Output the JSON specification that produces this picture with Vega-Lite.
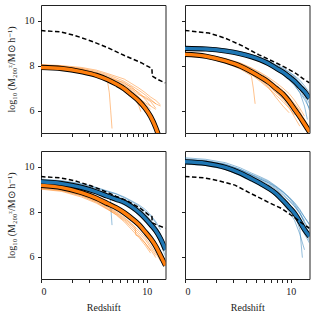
{
"$schema":"https://vega.github.io/schema/vega-lite/v6.json",
"padding":{"left":5,"top":4,"right":2,"bottom":4},
"spacing":12,
"config":{
 "font":"Liberation Serif",
 "view":{"stroke":"#222","strokeWidth":1},
 "axis":{"domain":false,"grid":false,"tickColor":"#222","tickWidth":1,"tickSize":3.5,"labelFont":"Liberation Serif","labelFontSize":10,"labelColor":"#222","labelPadding":3.5,"titleFont":"Liberation Serif","titleFontSize":10,"titleFontWeight":"normal","titleColor":"#222"},
 "line":{"clip":true}
},
"datasets":{"d":[
{"p":1,"k":"D","s":"D","z":0,"v":9.56},{"p":1,"k":"D","s":"D","z":0.57,"v":9.5},{"p":1,"k":"D","s":"D","z":1.13,"v":9.35},{"p":1,"k":"D","s":"D","z":2.1,"v":9.1},{"p":1,"k":"D","s":"D","z":3.54,"v":8.8},{"p":1,"k":"D","s":"D","z":5.62,"v":8.45},{"p":1,"k":"D","s":"D","z":8.67,"v":8.13},{"p":1,"k":"D","s":"D","z":11.35,"v":7.87},{"p":1,"k":"D","s":"D","z":11.45,"v":7.53},{"p":1,"k":"D","s":"D","z":13.3,"v":7.37},{"p":1,"k":"D","s":"D","z":15.8,"v":7.23},
{"p":1,"k":"O","s":"O","z":0,"v":7.92},{"p":1,"k":"O","s":"O","z":0.6,"v":7.87},{"p":1,"k":"O","s":"O","z":1.5,"v":7.73},{"p":1,"k":"O","s":"O","z":2.5,"v":7.57},{"p":1,"k":"O","s":"O","z":3.5,"v":7.38},{"p":1,"k":"O","s":"O","z":4.5,"v":7.18},{"p":1,"k":"O","s":"O","z":5.6,"v":6.97},{"p":1,"k":"O","s":"O","z":6.8,"v":6.7},{"p":1,"k":"O","s":"O","z":8.2,"v":6.42},{"p":1,"k":"O","s":"O","z":9.6,"v":6.1},{"p":1,"k":"O","s":"O","z":11,"v":5.73},{"p":1,"k":"O","s":"O","z":12.5,"v":5.23},{"p":1,"k":"O","s":"O","z":13.6,"v":4.8},
{"p":1,"k":"o","s":"o1","z":0,"v":8.02},{"p":1,"k":"o","s":"o1","z":0.6,"v":7.98},{"p":1,"k":"o","s":"o1","z":1.5,"v":7.88},{"p":1,"k":"o","s":"o1","z":2.5,"v":7.75},{"p":1,"k":"o","s":"o1","z":3.5,"v":7.6},{"p":1,"k":"o","s":"o1","z":4.5,"v":7.45},{"p":1,"k":"o","s":"o1","z":5.6,"v":7.3},{"p":1,"k":"o","s":"o1","z":6.8,"v":7.1},{"p":1,"k":"o","s":"o1","z":8.2,"v":6.9},{"p":1,"k":"o","s":"o1","z":9.6,"v":6.7},{"p":1,"k":"o","s":"o1","z":11,"v":6.5},{"p":1,"k":"o","s":"o1","z":12.5,"v":6.3},
{"p":1,"k":"o","s":"o2","z":0,"v":7.95},{"p":1,"k":"o","s":"o2","z":0.6,"v":7.9},{"p":1,"k":"o","s":"o2","z":1.5,"v":7.78},{"p":1,"k":"o","s":"o2","z":2.5,"v":7.62},{"p":1,"k":"o","s":"o2","z":3.5,"v":7.45},{"p":1,"k":"o","s":"o2","z":4.5,"v":7.22},{"p":1,"k":"o","s":"o2","z":5.6,"v":7.05},{"p":1,"k":"o","s":"o2","z":6.8,"v":6.85},{"p":1,"k":"o","s":"o2","z":8.2,"v":6.55},{"p":1,"k":"o","s":"o2","z":9.6,"v":6.3},{"p":1,"k":"o","s":"o2","z":11,"v":6.05},
{"p":1,"k":"o","s":"o3","z":0,"v":8.05},{"p":1,"k":"o","s":"o3","z":0.6,"v":8.0},{"p":1,"k":"o","s":"o3","z":1.5,"v":7.92},{"p":1,"k":"o","s":"o3","z":2.5,"v":7.8},{"p":1,"k":"o","s":"o3","z":3.5,"v":7.65},{"p":1,"k":"o","s":"o3","z":4.5,"v":7.52},{"p":1,"k":"o","s":"o3","z":5.6,"v":7.4},{"p":1,"k":"o","s":"o3","z":6.8,"v":7.2},{"p":1,"k":"o","s":"o3","z":8.2,"v":7.0},{"p":1,"k":"o","s":"o3","z":9.6,"v":6.8},{"p":1,"k":"o","s":"o3","z":11,"v":6.6},{"p":1,"k":"o","s":"o3","z":12.5,"v":6.45},{"p":1,"k":"o","s":"o3","z":14,"v":6.25},
{"p":1,"k":"o","s":"o4","z":0,"v":7.9},{"p":1,"k":"o","s":"o4","z":0.6,"v":7.85},{"p":1,"k":"o","s":"o4","z":1.5,"v":7.7},{"p":1,"k":"o","s":"o4","z":2.5,"v":7.5},{"p":1,"k":"o","s":"o4","z":3.5,"v":7.3},{"p":1,"k":"o","s":"o4","z":4.5,"v":7.1},{"p":1,"k":"o","s":"o4","z":5.6,"v":6.85},{"p":1,"k":"o","s":"o4","z":6.8,"v":6.6},{"p":1,"k":"o","s":"o4","z":8.2,"v":6.4},{"p":1,"k":"o","s":"o4","z":9.6,"v":6.15},
{"p":1,"k":"o","s":"o5","z":0,"v":7.98},{"p":1,"k":"o","s":"o5","z":0.6,"v":7.92},{"p":1,"k":"o","s":"o5","z":1.5,"v":7.8},{"p":1,"k":"o","s":"o5","z":2.5,"v":7.6},{"p":1,"k":"o","s":"o5","z":3.5,"v":7.35},{"p":1,"k":"o","s":"o5","z":3.7,"v":6.8},{"p":1,"k":"o","s":"o5","z":3.85,"v":6.0},{"p":1,"k":"o","s":"o5","z":4.0,"v":5.2},
{"p":1,"k":"o","s":"o6","z":0,"v":8.0},{"p":1,"k":"o","s":"o6","z":0.6,"v":7.95},{"p":1,"k":"o","s":"o6","z":1.5,"v":7.85},{"p":1,"k":"o","s":"o6","z":2.5,"v":7.7},{"p":1,"k":"o","s":"o6","z":3.5,"v":7.55},{"p":1,"k":"o","s":"o6","z":4.5,"v":7.38},{"p":1,"k":"o","s":"o6","z":5.6,"v":7.2},{"p":1,"k":"o","s":"o6","z":6.8,"v":7.05},{"p":1,"k":"o","s":"o6","z":8.2,"v":6.75},{"p":1,"k":"o","s":"o6","z":9.6,"v":6.5},{"p":1,"k":"o","s":"o6","z":11,"v":6.2},
{"p":1,"k":"o","s":"o7","z":0,"v":7.88},{"p":1,"k":"o","s":"o7","z":0.6,"v":7.82},{"p":1,"k":"o","s":"o7","z":1.5,"v":7.68},{"p":1,"k":"o","s":"o7","z":2.5,"v":7.5},{"p":1,"k":"o","s":"o7","z":3.5,"v":7.32},{"p":1,"k":"o","s":"o7","z":4.5,"v":7.15},{"p":1,"k":"o","s":"o7","z":5.6,"v":6.95},{"p":1,"k":"o","s":"o7","z":6.8,"v":6.8},{"p":1,"k":"o","s":"o7","z":8.2,"v":6.55},{"p":1,"k":"o","s":"o7","z":9.6,"v":6.35},{"p":1,"k":"o","s":"o7","z":11,"v":6.2},{"p":1,"k":"o","s":"o7","z":12.5,"v":6.05},
{"p":1,"k":"o","s":"o8","z":0,"v":8.03},{"p":1,"k":"o","s":"o8","z":0.6,"v":7.97},{"p":1,"k":"o","s":"o8","z":1.5,"v":7.85},{"p":1,"k":"o","s":"o8","z":2.5,"v":7.68},{"p":1,"k":"o","s":"o8","z":3.5,"v":7.5},{"p":1,"k":"o","s":"o8","z":4.5,"v":7.32},{"p":1,"k":"o","s":"o8","z":5.6,"v":7.15},{"p":1,"k":"o","s":"o8","z":6.8,"v":6.95},{"p":1,"k":"o","s":"o8","z":8.2,"v":6.7},{"p":1,"k":"o","s":"o8","z":9.6,"v":6.6},{"p":1,"k":"o","s":"o8","z":11,"v":6.45},{"p":1,"k":"o","s":"o8","z":12.5,"v":6.3},{"p":1,"k":"o","s":"o8","z":14,"v":6.2},
{"p":1,"k":"o","s":"o9","z":0,"v":7.93},{"p":1,"k":"o","s":"o9","z":0.6,"v":7.9},{"p":1,"k":"o","s":"o9","z":1.5,"v":7.75},{"p":1,"k":"o","s":"o9","z":2.5,"v":7.55},{"p":1,"k":"o","s":"o9","z":3.5,"v":7.35},{"p":1,"k":"o","s":"o9","z":4.5,"v":7.25},{"p":1,"k":"o","s":"o9","z":5.6,"v":7.1},{"p":1,"k":"o","s":"o9","z":6.8,"v":6.9},{"p":1,"k":"o","s":"o9","z":8.2,"v":6.6},{"p":1,"k":"o","s":"o9","z":9.6,"v":6.2},{"p":1,"k":"o","s":"o9","z":11,"v":5.9},
{"p":1,"k":"o","s":"o10","z":0,"v":8.0},{"p":1,"k":"o","s":"o10","z":0.6,"v":7.95},{"p":1,"k":"o","s":"o10","z":1.5,"v":7.82},{"p":1,"k":"o","s":"o10","z":2.5,"v":7.65},{"p":1,"k":"o","s":"o10","z":3.5,"v":7.48},{"p":1,"k":"o","s":"o10","z":4.5,"v":7.35},{"p":1,"k":"o","s":"o10","z":5.6,"v":7.25},{"p":1,"k":"o","s":"o10","z":6.8,"v":7.0},{"p":1,"k":"o","s":"o10","z":8.2,"v":6.8},{"p":1,"k":"o","s":"o10","z":9.6,"v":6.55},{"p":1,"k":"o","s":"o10","z":11,"v":6.4},{"p":1,"k":"o","s":"o10","z":12.5,"v":6.1},
{"p":1,"k":"o","s":"o11","z":0,"v":7.96},{"p":1,"k":"o","s":"o11","z":0.6,"v":7.9},{"p":1,"k":"o","s":"o11","z":1.5,"v":7.8},{"p":1,"k":"o","s":"o11","z":2.5,"v":7.62},{"p":1,"k":"o","s":"o11","z":3.5,"v":7.42},{"p":1,"k":"o","s":"o11","z":4.5,"v":7.25},{"p":1,"k":"o","s":"o11","z":5.6,"v":7.05},{"p":1,"k":"o","s":"o11","z":6.8,"v":6.8},{"p":1,"k":"o","s":"o11","z":8.2,"v":6.2},{"p":1,"k":"o","s":"o11","z":8.6,"v":5.95},

{"p":2,"k":"D","s":"D","z":0,"v":9.57},{"p":2,"k":"D","s":"D","z":0.72,"v":9.45},{"p":2,"k":"D","s":"D","z":1.5,"v":9.22},{"p":2,"k":"D","s":"D","z":2.67,"v":8.88},{"p":2,"k":"D","s":"D","z":3.54,"v":8.65},{"p":2,"k":"D","s":"D","z":4.36,"v":8.48},{"p":2,"k":"D","s":"D","z":6.83,"v":8.13},{"p":2,"k":"D","s":"D","z":8.67,"v":7.92},{"p":2,"k":"D","s":"D","z":11.3,"v":7.66},{"p":2,"k":"D","s":"D","z":13.5,"v":7.42},{"p":2,"k":"D","s":"D","z":15.8,"v":7.23},
{"p":2,"k":"B","s":"B","z":0,"v":8.77},{"p":2,"k":"B","s":"B","z":0.6,"v":8.74},{"p":2,"k":"B","s":"B","z":1.5,"v":8.65},{"p":2,"k":"B","s":"B","z":2.5,"v":8.53},{"p":2,"k":"B","s":"B","z":3.5,"v":8.4},{"p":2,"k":"B","s":"B","z":4.5,"v":8.26},{"p":2,"k":"B","s":"B","z":5.6,"v":8.1},{"p":2,"k":"B","s":"B","z":6.8,"v":7.9},{"p":2,"k":"B","s":"B","z":8.2,"v":7.71},{"p":2,"k":"B","s":"B","z":9.6,"v":7.5},{"p":2,"k":"B","s":"B","z":11,"v":7.3},{"p":2,"k":"B","s":"B","z":12.5,"v":7.06},{"p":2,"k":"B","s":"B","z":14,"v":6.85},{"p":2,"k":"B","s":"B","z":15.8,"v":6.55},
{"p":2,"k":"O","s":"O","z":0,"v":8.5},{"p":2,"k":"O","s":"O","z":0.6,"v":8.42},{"p":2,"k":"O","s":"O","z":1.5,"v":8.21},{"p":2,"k":"O","s":"O","z":2.5,"v":7.98},{"p":2,"k":"O","s":"O","z":3.5,"v":7.73},{"p":2,"k":"O","s":"O","z":4.5,"v":7.5},{"p":2,"k":"O","s":"O","z":5.6,"v":7.27},{"p":2,"k":"O","s":"O","z":6.8,"v":7.0},{"p":2,"k":"O","s":"O","z":8.2,"v":6.73},{"p":2,"k":"O","s":"O","z":9.6,"v":6.4},{"p":2,"k":"O","s":"O","z":11,"v":6.05},{"p":2,"k":"O","s":"O","z":12.5,"v":5.72},{"p":2,"k":"O","s":"O","z":14,"v":5.4},{"p":2,"k":"O","s":"O","z":15.8,"v":5.05},
{"p":2,"k":"b","s":"b1","z":0,"v":8.85},{"p":2,"k":"b","s":"b1","z":0.6,"v":8.82},{"p":2,"k":"b","s":"b1","z":1.5,"v":8.75},{"p":2,"k":"b","s":"b1","z":2.5,"v":8.63},{"p":2,"k":"b","s":"b1","z":3.5,"v":8.5},{"p":2,"k":"b","s":"b1","z":4.5,"v":8.38},{"p":2,"k":"b","s":"b1","z":5.6,"v":8.22},{"p":2,"k":"b","s":"b1","z":6.8,"v":8.05},{"p":2,"k":"b","s":"b1","z":8.2,"v":7.85},{"p":2,"k":"b","s":"b1","z":9.6,"v":7.7},{"p":2,"k":"b","s":"b1","z":11,"v":7.55},{"p":2,"k":"b","s":"b1","z":12.5,"v":7.35},{"p":2,"k":"b","s":"b1","z":14,"v":7.1},{"p":2,"k":"b","s":"b1","z":15.8,"v":6.8},
{"p":2,"k":"b","s":"b2","z":0,"v":8.72},{"p":2,"k":"b","s":"b2","z":0.6,"v":8.7},{"p":2,"k":"b","s":"b2","z":1.5,"v":8.6},{"p":2,"k":"b","s":"b2","z":2.5,"v":8.48},{"p":2,"k":"b","s":"b2","z":3.5,"v":8.35},{"p":2,"k":"b","s":"b2","z":4.5,"v":8.2},{"p":2,"k":"b","s":"b2","z":5.6,"v":8.02},{"p":2,"k":"b","s":"b2","z":6.8,"v":7.8},{"p":2,"k":"b","s":"b2","z":8.2,"v":7.6},{"p":2,"k":"b","s":"b2","z":9.6,"v":7.35},{"p":2,"k":"b","s":"b2","z":11,"v":7.1},{"p":2,"k":"b","s":"b2","z":12.5,"v":6.8},{"p":2,"k":"b","s":"b2","z":14,"v":6.5},{"p":2,"k":"b","s":"b2","z":15.8,"v":6.1},
{"p":2,"k":"b","s":"b3","z":0,"v":8.8},{"p":2,"k":"b","s":"b3","z":0.6,"v":8.78},{"p":2,"k":"b","s":"b3","z":1.5,"v":8.7},{"p":2,"k":"b","s":"b3","z":2.5,"v":8.58},{"p":2,"k":"b","s":"b3","z":3.5,"v":8.45},{"p":2,"k":"b","s":"b3","z":4.5,"v":8.33},{"p":2,"k":"b","s":"b3","z":5.6,"v":8.2},{"p":2,"k":"b","s":"b3","z":6.8,"v":8.0},{"p":2,"k":"b","s":"b3","z":8.2,"v":7.8},{"p":2,"k":"b","s":"b3","z":9.6,"v":7.62},{"p":2,"k":"b","s":"b3","z":11,"v":7.48},{"p":2,"k":"b","s":"b3","z":12.5,"v":7.25},{"p":2,"k":"b","s":"b3","z":14,"v":7.0},
{"p":2,"k":"b","s":"b4","z":0,"v":8.75},{"p":2,"k":"b","s":"b4","z":0.6,"v":8.72},{"p":2,"k":"b","s":"b4","z":1.5,"v":8.62},{"p":2,"k":"b","s":"b4","z":2.5,"v":8.5},{"p":2,"k":"b","s":"b4","z":3.5,"v":8.38},{"p":2,"k":"b","s":"b4","z":4.5,"v":8.22},{"p":2,"k":"b","s":"b4","z":5.6,"v":8.05},{"p":2,"k":"b","s":"b4","z":6.8,"v":7.88},{"p":2,"k":"b","s":"b4","z":8.2,"v":7.65},{"p":2,"k":"b","s":"b4","z":9.6,"v":7.4},{"p":2,"k":"b","s":"b4","z":11,"v":7.15},{"p":2,"k":"b","s":"b4","z":12.5,"v":6.8},{"p":2,"k":"b","s":"b4","z":14,"v":6.2},{"p":2,"k":"b","s":"b4","z":15,"v":5.6},
{"p":2,"k":"b","s":"b5","z":0,"v":8.82},{"p":2,"k":"b","s":"b5","z":0.6,"v":8.8},{"p":2,"k":"b","s":"b5","z":1.5,"v":8.72},{"p":2,"k":"b","s":"b5","z":2.5,"v":8.6},{"p":2,"k":"b","s":"b5","z":3.5,"v":8.47},{"p":2,"k":"b","s":"b5","z":4.5,"v":8.3},{"p":2,"k":"b","s":"b5","z":5.6,"v":8.15},{"p":2,"k":"b","s":"b5","z":6.8,"v":7.95},{"p":2,"k":"b","s":"b5","z":8.2,"v":7.8},{"p":2,"k":"b","s":"b5","z":9.6,"v":7.6},{"p":2,"k":"b","s":"b5","z":11,"v":7.42},{"p":2,"k":"b","s":"b5","z":12.5,"v":7.2},{"p":2,"k":"b","s":"b5","z":14,"v":6.9},{"p":2,"k":"b","s":"b5","z":15.8,"v":6.6},
{"p":2,"k":"b","s":"b6","z":0,"v":8.7},{"p":2,"k":"b","s":"b6","z":0.6,"v":8.68},{"p":2,"k":"b","s":"b6","z":1.5,"v":8.6},{"p":2,"k":"b","s":"b6","z":2.5,"v":8.47},{"p":2,"k":"b","s":"b6","z":3.5,"v":8.32},{"p":2,"k":"b","s":"b6","z":4.5,"v":8.18},{"p":2,"k":"b","s":"b6","z":5.6,"v":8.0},{"p":2,"k":"b","s":"b6","z":6.8,"v":7.82},{"p":2,"k":"b","s":"b6","z":8.2,"v":7.62},{"p":2,"k":"b","s":"b6","z":9.6,"v":7.45},{"p":2,"k":"b","s":"b6","z":11,"v":7.25},{"p":2,"k":"b","s":"b6","z":12.5,"v":6.95},{"p":2,"k":"b","s":"b6","z":14,"v":6.55},
{"p":2,"k":"b","s":"b7","z":0,"v":8.78},{"p":2,"k":"b","s":"b7","z":0.6,"v":8.76},{"p":2,"k":"b","s":"b7","z":1.5,"v":8.68},{"p":2,"k":"b","s":"b7","z":2.5,"v":8.56},{"p":2,"k":"b","s":"b7","z":3.5,"v":8.42},{"p":2,"k":"b","s":"b7","z":4.5,"v":8.28},{"p":2,"k":"b","s":"b7","z":5.6,"v":8.12},{"p":2,"k":"b","s":"b7","z":6.8,"v":7.95},{"p":2,"k":"b","s":"b7","z":8.2,"v":7.75},{"p":2,"k":"b","s":"b7","z":9.6,"v":7.58},{"p":2,"k":"b","s":"b7","z":11,"v":7.4},{"p":2,"k":"b","s":"b7","z":12.5,"v":7.1},{"p":2,"k":"b","s":"b7","z":14,"v":6.75},{"p":2,"k":"b","s":"b7","z":15.8,"v":6.3},
{"p":2,"k":"b","s":"b8","z":0,"v":8.84},{"p":2,"k":"b","s":"b8","z":0.6,"v":8.8},{"p":2,"k":"b","s":"b8","z":1.5,"v":8.7},{"p":2,"k":"b","s":"b8","z":2.5,"v":8.55},{"p":2,"k":"b","s":"b8","z":3.5,"v":8.42},{"p":2,"k":"b","s":"b8","z":4.5,"v":8.3},{"p":2,"k":"b","s":"b8","z":5.6,"v":8.18},{"p":2,"k":"b","s":"b8","z":6.8,"v":8.02},{"p":2,"k":"b","s":"b8","z":8.2,"v":7.9},{"p":2,"k":"b","s":"b8","z":9.6,"v":7.72},{"p":2,"k":"b","s":"b8","z":11,"v":7.5},{"p":2,"k":"b","s":"b8","z":12.5,"v":7.2},{"p":2,"k":"b","s":"b8","z":14,"v":6.7},{"p":2,"k":"b","s":"b8","z":15.8,"v":6.0},
{"p":2,"k":"b","s":"b9","z":0,"v":8.74},{"p":2,"k":"b","s":"b9","z":0.6,"v":8.72},{"p":2,"k":"b","s":"b9","z":1.5,"v":8.64},{"p":2,"k":"b","s":"b9","z":2.5,"v":8.52},{"p":2,"k":"b","s":"b9","z":3.5,"v":8.4},{"p":2,"k":"b","s":"b9","z":4.5,"v":8.25},{"p":2,"k":"b","s":"b9","z":5.6,"v":8.08},{"p":2,"k":"b","s":"b9","z":6.8,"v":7.9},{"p":2,"k":"b","s":"b9","z":8.2,"v":7.68},{"p":2,"k":"b","s":"b9","z":9.6,"v":7.45},{"p":2,"k":"b","s":"b9","z":11,"v":7.2},{"p":2,"k":"b","s":"b9","z":12.5,"v":6.95},{"p":2,"k":"b","s":"b9","z":14,"v":6.7},{"p":2,"k":"b","s":"b9","z":15.8,"v":6.45},
{"p":2,"k":"o","s":"o1","z":0,"v":8.55},{"p":2,"k":"o","s":"o1","z":0.6,"v":8.48},{"p":2,"k":"o","s":"o1","z":1.5,"v":8.3},{"p":2,"k":"o","s":"o1","z":2.5,"v":8.1},{"p":2,"k":"o","s":"o1","z":3.5,"v":7.88},{"p":2,"k":"o","s":"o1","z":4.5,"v":7.65},{"p":2,"k":"o","s":"o1","z":5.6,"v":7.42},{"p":2,"k":"o","s":"o1","z":6.8,"v":7.15},{"p":2,"k":"o","s":"o1","z":8.2,"v":6.9},{"p":2,"k":"o","s":"o1","z":9.6,"v":6.6},{"p":2,"k":"o","s":"o1","z":11,"v":6.3},{"p":2,"k":"o","s":"o1","z":12.5,"v":6.0},
{"p":2,"k":"o","s":"o2","z":0,"v":8.45},{"p":2,"k":"o","s":"o2","z":0.6,"v":8.38},{"p":2,"k":"o","s":"o2","z":1.5,"v":8.15},{"p":2,"k":"o","s":"o2","z":2.5,"v":7.9},{"p":2,"k":"o","s":"o2","z":3.5,"v":7.6},{"p":2,"k":"o","s":"o2","z":4.5,"v":7.3},{"p":2,"k":"o","s":"o2","z":5.6,"v":7.0},{"p":2,"k":"o","s":"o2","z":6.8,"v":6.7},{"p":2,"k":"o","s":"o2","z":8.2,"v":6.4},{"p":2,"k":"o","s":"o2","z":9.6,"v":6.1},{"p":2,"k":"o","s":"o2","z":11,"v":5.8},
{"p":2,"k":"o","s":"o3","z":0,"v":8.5},{"p":2,"k":"o","s":"o3","z":0.6,"v":8.42},{"p":2,"k":"o","s":"o3","z":1.5,"v":8.22},{"p":2,"k":"o","s":"o3","z":2.5,"v":7.95},{"p":2,"k":"o","s":"o3","z":3.5,"v":7.7},{"p":2,"k":"o","s":"o3","z":4.5,"v":7.4},{"p":2,"k":"o","s":"o3","z":5.6,"v":7.1},{"p":2,"k":"o","s":"o3","z":6.8,"v":6.8},{"p":2,"k":"o","s":"o3","z":8.2,"v":6.55},{"p":2,"k":"o","s":"o3","z":9.6,"v":6.3},{"p":2,"k":"o","s":"o3","z":11,"v":6.1},{"p":2,"k":"o","s":"o3","z":12.5,"v":5.8},{"p":2,"k":"o","s":"o3","z":14,"v":5.5},
{"p":2,"k":"o","s":"o4","z":0,"v":8.42},{"p":2,"k":"o","s":"o4","z":0.6,"v":8.35},{"p":2,"k":"o","s":"o4","z":1.5,"v":8.12},{"p":2,"k":"o","s":"o4","z":2.5,"v":7.85},{"p":2,"k":"o","s":"o4","z":3.5,"v":7.55},{"p":2,"k":"o","s":"o4","z":3.7,"v":7.0},{"p":2,"k":"o","s":"o4","z":3.9,"v":6.3},
{"p":2,"k":"o","s":"o5","z":0,"v":8.58},{"p":2,"k":"o","s":"o5","z":0.6,"v":8.5},{"p":2,"k":"o","s":"o5","z":1.5,"v":8.32},{"p":2,"k":"o","s":"o5","z":2.5,"v":8.12},{"p":2,"k":"o","s":"o5","z":3.5,"v":7.9},{"p":2,"k":"o","s":"o5","z":4.5,"v":7.7},{"p":2,"k":"o","s":"o5","z":5.6,"v":7.48},{"p":2,"k":"o","s":"o5","z":6.8,"v":7.25},{"p":2,"k":"o","s":"o5","z":8.2,"v":7.0},{"p":2,"k":"o","s":"o5","z":9.6,"v":6.75},{"p":2,"k":"o","s":"o5","z":11,"v":6.45},{"p":2,"k":"o","s":"o5","z":12.5,"v":6.1},{"p":2,"k":"o","s":"o5","z":14,"v":5.75},
{"p":2,"k":"o","s":"o6","z":0,"v":8.48},{"p":2,"k":"o","s":"o6","z":0.6,"v":8.4},{"p":2,"k":"o","s":"o6","z":1.5,"v":8.18},{"p":2,"k":"o","s":"o6","z":2.5,"v":7.92},{"p":2,"k":"o","s":"o6","z":3.5,"v":7.62},{"p":2,"k":"o","s":"o6","z":4.5,"v":7.35},{"p":2,"k":"o","s":"o6","z":5.6,"v":7.05},{"p":2,"k":"o","s":"o6","z":6.8,"v":6.6},{"p":2,"k":"o","s":"o6","z":8.2,"v":6.2},{"p":2,"k":"o","s":"o6","z":9.6,"v":5.9},
{"p":2,"k":"o","s":"o7","z":0,"v":8.52},{"p":2,"k":"o","s":"o7","z":0.6,"v":8.45},{"p":2,"k":"o","s":"o7","z":1.5,"v":8.25},{"p":2,"k":"o","s":"o7","z":2.5,"v":8.0},{"p":2,"k":"o","s":"o7","z":3.5,"v":7.75},{"p":2,"k":"o","s":"o7","z":4.5,"v":7.5},{"p":2,"k":"o","s":"o7","z":5.6,"v":7.2},{"p":2,"k":"o","s":"o7","z":6.8,"v":6.95},{"p":2,"k":"o","s":"o7","z":8.2,"v":6.65},{"p":2,"k":"o","s":"o7","z":9.6,"v":6.35},{"p":2,"k":"o","s":"o7","z":11,"v":6.05},{"p":2,"k":"o","s":"o7","z":12.5,"v":5.65},
{"p":2,"k":"o","s":"o8","z":0,"v":8.46},{"p":2,"k":"o","s":"o8","z":0.6,"v":8.4},{"p":2,"k":"o","s":"o8","z":1.5,"v":8.2},{"p":2,"k":"o","s":"o8","z":2.5,"v":7.95},{"p":2,"k":"o","s":"o8","z":3.5,"v":7.68},{"p":2,"k":"o","s":"o8","z":4.5,"v":7.45},{"p":2,"k":"o","s":"o8","z":5.6,"v":7.18},{"p":2,"k":"o","s":"o8","z":6.8,"v":6.85},{"p":2,"k":"o","s":"o8","z":8.2,"v":6.5},{"p":2,"k":"o","s":"o8","z":9.6,"v":6.15},{"p":2,"k":"o","s":"o8","z":11,"v":5.7},{"p":2,"k":"o","s":"o8","z":12.5,"v":5.3},
{"p":2,"k":"o","s":"o9","z":0,"v":8.55},{"p":2,"k":"o","s":"o9","z":0.6,"v":8.47},{"p":2,"k":"o","s":"o9","z":1.5,"v":8.28},{"p":2,"k":"o","s":"o9","z":2.5,"v":8.05},{"p":2,"k":"o","s":"o9","z":3.5,"v":7.8},{"p":2,"k":"o","s":"o9","z":4.5,"v":7.55},{"p":2,"k":"o","s":"o9","z":5.6,"v":7.3},{"p":2,"k":"o","s":"o9","z":6.8,"v":7.05},{"p":2,"k":"o","s":"o9","z":8.2,"v":6.8},{"p":2,"k":"o","s":"o9","z":9.6,"v":6.5},{"p":2,"k":"o","s":"o9","z":11,"v":6.25},{"p":2,"k":"o","s":"o9","z":12.5,"v":5.95},{"p":2,"k":"o","s":"o9","z":14,"v":5.6},{"p":2,"k":"o","s":"o9","z":15.8,"v":5.2},

{"p":3,"k":"D","s":"D","z":0,"v":9.56},{"p":3,"k":"D","s":"D","z":0.57,"v":9.5},{"p":3,"k":"D","s":"D","z":1.13,"v":9.38},{"p":3,"k":"D","s":"D","z":2.1,"v":9.15},{"p":3,"k":"D","s":"D","z":3.5,"v":8.86},{"p":3,"k":"D","s":"D","z":4.5,"v":8.68},{"p":3,"k":"D","s":"D","z":6.05,"v":8.48},{"p":3,"k":"D","s":"D","z":8.5,"v":8.15},{"p":3,"k":"D","s":"D","z":10.5,"v":7.85},{"p":3,"k":"D","s":"D","z":11.35,"v":7.78},{"p":3,"k":"D","s":"D","z":11.45,"v":7.5},{"p":3,"k":"D","s":"D","z":13.3,"v":7.38},{"p":3,"k":"D","s":"D","z":15.8,"v":7.26},
{"p":3,"k":"B","s":"B","z":0,"v":9.33},{"p":3,"k":"B","s":"B","z":0.6,"v":9.25},{"p":3,"k":"B","s":"B","z":1.5,"v":9.08},{"p":3,"k":"B","s":"B","z":2.5,"v":8.88},{"p":3,"k":"B","s":"B","z":3.5,"v":8.69},{"p":3,"k":"B","s":"B","z":4.5,"v":8.55},{"p":3,"k":"B","s":"B","z":5.6,"v":8.42},{"p":3,"k":"B","s":"B","z":6.8,"v":8.22},{"p":3,"k":"B","s":"B","z":8.2,"v":7.97},{"p":3,"k":"B","s":"B","z":9.6,"v":7.7},{"p":3,"k":"B","s":"B","z":11,"v":7.43},{"p":3,"k":"B","s":"B","z":12.5,"v":7.15},{"p":3,"k":"B","s":"B","z":14,"v":6.8},{"p":3,"k":"B","s":"B","z":15.8,"v":6.3},
{"p":3,"k":"O","s":"O","z":0,"v":9.17},{"p":3,"k":"O","s":"O","z":0.6,"v":9.07},{"p":3,"k":"O","s":"O","z":1.5,"v":8.85},{"p":3,"k":"O","s":"O","z":2.5,"v":8.6},{"p":3,"k":"O","s":"O","z":3.5,"v":8.36},{"p":3,"k":"O","s":"O","z":4.5,"v":8.17},{"p":3,"k":"O","s":"O","z":5.6,"v":7.95},{"p":3,"k":"O","s":"O","z":6.8,"v":7.7},{"p":3,"k":"O","s":"O","z":8.2,"v":7.42},{"p":3,"k":"O","s":"O","z":9.6,"v":7.1},{"p":3,"k":"O","s":"O","z":11,"v":6.8},{"p":3,"k":"O","s":"O","z":12.5,"v":6.45},{"p":3,"k":"O","s":"O","z":14,"v":6.05},{"p":3,"k":"O","s":"O","z":15.8,"v":5.6},
{"p":3,"k":"b","s":"b1","z":0,"v":9.4},{"p":3,"k":"b","s":"b1","z":0.6,"v":9.33},{"p":3,"k":"b","s":"b1","z":1.5,"v":9.18},{"p":3,"k":"b","s":"b1","z":2.5,"v":9.0},{"p":3,"k":"b","s":"b1","z":3.5,"v":8.82},{"p":3,"k":"b","s":"b1","z":4.5,"v":8.68},{"p":3,"k":"b","s":"b1","z":5.6,"v":8.55},{"p":3,"k":"b","s":"b1","z":6.8,"v":8.38},{"p":3,"k":"b","s":"b1","z":8.2,"v":8.15},{"p":3,"k":"b","s":"b1","z":9.6,"v":7.9},{"p":3,"k":"b","s":"b1","z":11,"v":7.62},{"p":3,"k":"b","s":"b1","z":12.5,"v":7.35},{"p":3,"k":"b","s":"b1","z":14,"v":7.0},{"p":3,"k":"b","s":"b1","z":15.8,"v":6.5},
{"p":3,"k":"b","s":"b2","z":0,"v":9.3},{"p":3,"k":"b","s":"b2","z":0.6,"v":9.22},{"p":3,"k":"b","s":"b2","z":1.5,"v":9.05},{"p":3,"k":"b","s":"b2","z":2.5,"v":8.85},{"p":3,"k":"b","s":"b2","z":3.5,"v":8.65},{"p":3,"k":"b","s":"b2","z":4.5,"v":8.5},{"p":3,"k":"b","s":"b2","z":5.6,"v":8.35},{"p":3,"k":"b","s":"b2","z":6.8,"v":8.15},{"p":3,"k":"b","s":"b2","z":8.2,"v":7.9},{"p":3,"k":"b","s":"b2","z":9.6,"v":7.62},{"p":3,"k":"b","s":"b2","z":11,"v":7.35},{"p":3,"k":"b","s":"b2","z":12.5,"v":7.05},{"p":3,"k":"b","s":"b2","z":14,"v":6.7},{"p":3,"k":"b","s":"b2","z":15.8,"v":6.2},
{"p":3,"k":"b","s":"b3","z":0,"v":9.42},{"p":3,"k":"b","s":"b3","z":0.6,"v":9.36},{"p":3,"k":"b","s":"b3","z":1.5,"v":9.22},{"p":3,"k":"b","s":"b3","z":2.5,"v":9.05},{"p":3,"k":"b","s":"b3","z":3.5,"v":8.9},{"p":3,"k":"b","s":"b3","z":4.5,"v":8.78},{"p":3,"k":"b","s":"b3","z":5.6,"v":8.62},{"p":3,"k":"b","s":"b3","z":6.8,"v":8.45},{"p":3,"k":"b","s":"b3","z":8.2,"v":8.25},{"p":3,"k":"b","s":"b3","z":9.6,"v":8.02},{"p":3,"k":"b","s":"b3","z":11,"v":7.8},{"p":3,"k":"b","s":"b3","z":12.5,"v":7.5},
{"p":3,"k":"b","s":"b4","z":0,"v":9.35},{"p":3,"k":"b","s":"b4","z":0.6,"v":9.28},{"p":3,"k":"b","s":"b4","z":1.5,"v":9.12},{"p":3,"k":"b","s":"b4","z":2.5,"v":8.9},{"p":3,"k":"b","s":"b4","z":3.5,"v":8.72},{"p":3,"k":"b","s":"b4","z":3.8,"v":8.6},{"p":3,"k":"b","s":"b4","z":4.0,"v":7.4},
{"p":3,"k":"b","s":"b5","z":0,"v":9.28},{"p":3,"k":"b","s":"b5","z":0.6,"v":9.2},{"p":3,"k":"b","s":"b5","z":1.5,"v":9.02},{"p":3,"k":"b","s":"b5","z":2.5,"v":8.82},{"p":3,"k":"b","s":"b5","z":3.5,"v":8.62},{"p":3,"k":"b","s":"b5","z":4.5,"v":8.45},{"p":3,"k":"b","s":"b5","z":5.6,"v":8.3},{"p":3,"k":"b","s":"b5","z":6.8,"v":8.1},{"p":3,"k":"b","s":"b5","z":8.2,"v":7.85},{"p":3,"k":"b","s":"b5","z":9.6,"v":7.58},{"p":3,"k":"b","s":"b5","z":11,"v":7.3},{"p":3,"k":"b","s":"b5","z":12.5,"v":7.0},{"p":3,"k":"b","s":"b5","z":14,"v":6.6},{"p":3,"k":"b","s":"b5","z":15.8,"v":6.0},
{"p":3,"k":"b","s":"b6","z":0,"v":9.38},{"p":3,"k":"b","s":"b6","z":0.6,"v":9.3},{"p":3,"k":"b","s":"b6","z":1.5,"v":9.15},{"p":3,"k":"b","s":"b6","z":2.5,"v":8.95},{"p":3,"k":"b","s":"b6","z":3.5,"v":8.78},{"p":3,"k":"b","s":"b6","z":4.5,"v":8.65},{"p":3,"k":"b","s":"b6","z":5.6,"v":8.52},{"p":3,"k":"b","s":"b6","z":6.8,"v":8.32},{"p":3,"k":"b","s":"b6","z":8.2,"v":8.08},{"p":3,"k":"b","s":"b6","z":9.6,"v":7.85},{"p":3,"k":"b","s":"b6","z":11,"v":7.6},{"p":3,"k":"b","s":"b6","z":12.5,"v":7.28},{"p":3,"k":"b","s":"b6","z":14,"v":6.9},
{"p":3,"k":"b","s":"b7","z":0,"v":9.45},{"p":3,"k":"b","s":"b7","z":0.6,"v":9.38},{"p":3,"k":"b","s":"b7","z":1.5,"v":9.25},{"p":3,"k":"b","s":"b7","z":2.5,"v":9.08},{"p":3,"k":"b","s":"b7","z":3.5,"v":8.92},{"p":3,"k":"b","s":"b7","z":4.5,"v":8.8},{"p":3,"k":"b","s":"b7","z":5.6,"v":8.65},{"p":3,"k":"b","s":"b7","z":6.8,"v":8.48},{"p":3,"k":"b","s":"b7","z":8.2,"v":8.3},{"p":3,"k":"b","s":"b7","z":9.6,"v":8.1},{"p":3,"k":"b","s":"b7","z":11,"v":7.85},{"p":3,"k":"b","s":"b7","z":12.5,"v":7.55},{"p":3,"k":"b","s":"b7","z":14,"v":7.2},
{"p":3,"k":"b","s":"b8","z":0,"v":9.32},{"p":3,"k":"b","s":"b8","z":0.6,"v":9.25},{"p":3,"k":"b","s":"b8","z":1.5,"v":9.1},{"p":3,"k":"b","s":"b8","z":2.5,"v":8.9},{"p":3,"k":"b","s":"b8","z":3.5,"v":8.7},{"p":3,"k":"b","s":"b8","z":4.5,"v":8.55},{"p":3,"k":"b","s":"b8","z":5.6,"v":8.42},{"p":3,"k":"b","s":"b8","z":6.8,"v":8.2},{"p":3,"k":"b","s":"b8","z":8.2,"v":7.95},{"p":3,"k":"b","s":"b8","z":9.6,"v":7.7},{"p":3,"k":"b","s":"b8","z":11,"v":7.48},{"p":3,"k":"b","s":"b8","z":12.5,"v":7.2},{"p":3,"k":"b","s":"b8","z":14,"v":6.85},{"p":3,"k":"b","s":"b8","z":15.8,"v":6.4},
{"p":3,"k":"o","s":"o1","z":0,"v":9.12},{"p":3,"k":"o","s":"o1","z":0.6,"v":9.02},{"p":3,"k":"o","s":"o1","z":1.5,"v":8.8},{"p":3,"k":"o","s":"o1","z":2.5,"v":8.55},{"p":3,"k":"o","s":"o1","z":3.5,"v":8.3},{"p":3,"k":"o","s":"o1","z":4.5,"v":8.1},{"p":3,"k":"o","s":"o1","z":5.6,"v":7.88},{"p":3,"k":"o","s":"o1","z":6.8,"v":7.62},{"p":3,"k":"o","s":"o1","z":8.2,"v":7.35},{"p":3,"k":"o","s":"o1","z":9.6,"v":7.05},{"p":3,"k":"o","s":"o1","z":11,"v":6.75},{"p":3,"k":"o","s":"o1","z":12.5,"v":6.4},{"p":3,"k":"o","s":"o1","z":14,"v":6.0},
{"p":3,"k":"o","s":"o2","z":0,"v":9.05},{"p":3,"k":"o","s":"o2","z":0.6,"v":8.95},{"p":3,"k":"o","s":"o2","z":1.5,"v":8.72},{"p":3,"k":"o","s":"o2","z":2.5,"v":8.45},{"p":3,"k":"o","s":"o2","z":3.5,"v":8.15},{"p":3,"k":"o","s":"o2","z":4.5,"v":7.92},{"p":3,"k":"o","s":"o2","z":5.6,"v":7.65},{"p":3,"k":"o","s":"o2","z":6.8,"v":7.38},{"p":3,"k":"o","s":"o2","z":8.2,"v":7.05},{"p":3,"k":"o","s":"o2","z":9.6,"v":6.75},{"p":3,"k":"o","s":"o2","z":11,"v":6.4},{"p":3,"k":"o","s":"o2","z":12.5,"v":6.05},
{"p":3,"k":"o","s":"o3","z":0,"v":9.15},{"p":3,"k":"o","s":"o3","z":0.6,"v":9.05},{"p":3,"k":"o","s":"o3","z":1.5,"v":8.85},{"p":3,"k":"o","s":"o3","z":2.5,"v":8.6},{"p":3,"k":"o","s":"o3","z":3.5,"v":8.35},{"p":3,"k":"o","s":"o3","z":4.5,"v":8.12},{"p":3,"k":"o","s":"o3","z":5.6,"v":7.9},{"p":3,"k":"o","s":"o3","z":6.8,"v":7.65},{"p":3,"k":"o","s":"o3","z":8.2,"v":7.4},{"p":3,"k":"o","s":"o3","z":9.6,"v":7.12},{"p":3,"k":"o","s":"o3","z":11,"v":6.85},{"p":3,"k":"o","s":"o3","z":12.5,"v":6.5},{"p":3,"k":"o","s":"o3","z":14,"v":6.15},{"p":3,"k":"o","s":"o3","z":15.8,"v":5.7},
{"p":3,"k":"o","s":"o4","z":0,"v":9.0},{"p":3,"k":"o","s":"o4","z":0.6,"v":8.9},{"p":3,"k":"o","s":"o4","z":1.5,"v":8.65},{"p":3,"k":"o","s":"o4","z":2.5,"v":8.38},{"p":3,"k":"o","s":"o4","z":3.5,"v":8.1},{"p":3,"k":"o","s":"o4","z":4.5,"v":7.88},{"p":3,"k":"o","s":"o4","z":5.6,"v":7.6},{"p":3,"k":"o","s":"o4","z":6.8,"v":7.3},{"p":3,"k":"o","s":"o4","z":8.2,"v":6.95},{"p":3,"k":"o","s":"o4","z":9.6,"v":6.6},{"p":3,"k":"o","s":"o4","z":11,"v":6.3},{"p":3,"k":"o","s":"o4","z":12.5,"v":5.95},
{"p":3,"k":"o","s":"o5","z":0,"v":9.1},{"p":3,"k":"o","s":"o5","z":0.6,"v":9.0},{"p":3,"k":"o","s":"o5","z":1.5,"v":8.78},{"p":3,"k":"o","s":"o5","z":2.5,"v":8.5},{"p":3,"k":"o","s":"o5","z":3.5,"v":8.2},{"p":3,"k":"o","s":"o5","z":4.5,"v":7.95},{"p":3,"k":"o","s":"o5","z":5.6,"v":7.7},{"p":3,"k":"o","s":"o5","z":6.8,"v":7.45},{"p":3,"k":"o","s":"o5","z":8.2,"v":7.15},{"p":3,"k":"o","s":"o5","z":9.6,"v":6.85},{"p":3,"k":"o","s":"o5","z":11,"v":6.5},{"p":3,"k":"o","s":"o5","z":12.5,"v":6.15},{"p":3,"k":"o","s":"o5","z":14,"v":5.8},
{"p":3,"k":"o","s":"o6","z":0,"v":9.08},{"p":3,"k":"o","s":"o6","z":0.6,"v":8.98},{"p":3,"k":"o","s":"o6","z":1.5,"v":8.75},{"p":3,"k":"o","s":"o6","z":2.5,"v":8.48},{"p":3,"k":"o","s":"o6","z":3.5,"v":8.22},{"p":3,"k":"o","s":"o6","z":4.5,"v":8.0},{"p":3,"k":"o","s":"o6","z":5.6,"v":7.75},{"p":3,"k":"o","s":"o6","z":6.8,"v":7.45},{"p":3,"k":"o","s":"o6","z":7.4,"v":7.3},{"p":3,"k":"o","s":"o6","z":7.6,"v":6.95},{"p":3,"k":"o","s":"o6","z":8.2,"v":6.9},{"p":3,"k":"o","s":"o6","z":9.6,"v":6.6},{"p":3,"k":"o","s":"o6","z":11,"v":6.25},
{"p":3,"k":"o","s":"o7","z":0,"v":9.2},{"p":3,"k":"o","s":"o7","z":0.6,"v":9.1},{"p":3,"k":"o","s":"o7","z":1.5,"v":8.9},{"p":3,"k":"o","s":"o7","z":2.5,"v":8.65},{"p":3,"k":"o","s":"o7","z":3.5,"v":8.4},{"p":3,"k":"o","s":"o7","z":4.5,"v":8.2},{"p":3,"k":"o","s":"o7","z":5.6,"v":7.98},{"p":3,"k":"o","s":"o7","z":6.8,"v":7.75},{"p":3,"k":"o","s":"o7","z":8.2,"v":7.5},{"p":3,"k":"o","s":"o7","z":9.6,"v":7.2},{"p":3,"k":"o","s":"o7","z":11,"v":6.9},{"p":3,"k":"o","s":"o7","z":12.5,"v":6.55},{"p":3,"k":"o","s":"o7","z":14,"v":6.2},{"p":3,"k":"o","s":"o7","z":15.8,"v":5.8},
{"p":3,"k":"o","s":"o8","z":0,"v":9.02},{"p":3,"k":"o","s":"o8","z":0.6,"v":8.93},{"p":3,"k":"o","s":"o8","z":1.5,"v":8.7},{"p":3,"k":"o","s":"o8","z":2.5,"v":8.42},{"p":3,"k":"o","s":"o8","z":3.5,"v":8.12},{"p":3,"k":"o","s":"o8","z":4.5,"v":7.85},{"p":3,"k":"o","s":"o8","z":5.6,"v":7.55},{"p":3,"k":"o","s":"o8","z":6.8,"v":7.2},{"p":3,"k":"o","s":"o8","z":8.2,"v":6.85},{"p":3,"k":"o","s":"o8","z":9.6,"v":6.5},{"p":3,"k":"o","s":"o8","z":11,"v":6.15},

{"p":4,"k":"D","s":"D","z":0,"v":9.57},{"p":4,"k":"D","s":"D","z":0.57,"v":9.5},{"p":4,"k":"D","s":"D","z":1.13,"v":9.38},{"p":4,"k":"D","s":"D","z":2.1,"v":9.18},{"p":4,"k":"D","s":"D","z":3.27,"v":8.85},{"p":4,"k":"D","s":"D","z":4.5,"v":8.6},{"p":4,"k":"D","s":"D","z":5.72,"v":8.4},{"p":4,"k":"D","s":"D","z":8.1,"v":8.12},{"p":4,"k":"D","s":"D","z":10,"v":7.85},{"p":4,"k":"D","s":"D","z":11.3,"v":7.7},{"p":4,"k":"D","s":"D","z":13.5,"v":7.45},{"p":4,"k":"D","s":"D","z":15.8,"v":7.26},
{"p":4,"k":"B","s":"B","z":0,"v":10.22},{"p":4,"k":"B","s":"B","z":0.6,"v":10.15},{"p":4,"k":"B","s":"B","z":1.5,"v":9.97},{"p":4,"k":"B","s":"B","z":2.5,"v":9.72},{"p":4,"k":"B","s":"B","z":3.5,"v":9.47},{"p":4,"k":"B","s":"B","z":4.5,"v":9.26},{"p":4,"k":"B","s":"B","z":5.6,"v":9.05},{"p":4,"k":"B","s":"B","z":6.8,"v":8.82},{"p":4,"k":"B","s":"B","z":8.2,"v":8.5},{"p":4,"k":"B","s":"B","z":9.6,"v":8.2},{"p":4,"k":"B","s":"B","z":11,"v":7.92},{"p":4,"k":"B","s":"B","z":12.5,"v":7.55},{"p":4,"k":"B","s":"B","z":14,"v":7.2},{"p":4,"k":"B","s":"B","z":15.8,"v":6.9},
{"p":4,"k":"b","s":"b1","z":0,"v":10.35},{"p":4,"k":"b","s":"b1","z":0.6,"v":10.28},{"p":4,"k":"b","s":"b1","z":1.5,"v":10.12},{"p":4,"k":"b","s":"b1","z":2.5,"v":9.88},{"p":4,"k":"b","s":"b1","z":3.5,"v":9.65},{"p":4,"k":"b","s":"b1","z":4.5,"v":9.45},{"p":4,"k":"b","s":"b1","z":5.6,"v":9.28},{"p":4,"k":"b","s":"b1","z":6.8,"v":9.05},{"p":4,"k":"b","s":"b1","z":8.2,"v":8.78},{"p":4,"k":"b","s":"b1","z":9.6,"v":8.5},{"p":4,"k":"b","s":"b1","z":11,"v":8.22},{"p":4,"k":"b","s":"b1","z":12.5,"v":7.9},{"p":4,"k":"b","s":"b1","z":14,"v":7.55},{"p":4,"k":"b","s":"b1","z":15.8,"v":7.2},
{"p":4,"k":"b","s":"b2","z":0,"v":10.18},{"p":4,"k":"b","s":"b2","z":0.6,"v":10.1},{"p":4,"k":"b","s":"b2","z":1.5,"v":9.92},{"p":4,"k":"b","s":"b2","z":2.5,"v":9.65},{"p":4,"k":"b","s":"b2","z":3.5,"v":9.4},{"p":4,"k":"b","s":"b2","z":4.5,"v":9.2},{"p":4,"k":"b","s":"b2","z":5.6,"v":9.02},{"p":4,"k":"b","s":"b2","z":6.8,"v":8.78},{"p":4,"k":"b","s":"b2","z":8.2,"v":8.45},{"p":4,"k":"b","s":"b2","z":9.6,"v":8.12},{"p":4,"k":"b","s":"b2","z":11,"v":7.8},{"p":4,"k":"b","s":"b2","z":12.5,"v":7.4},{"p":4,"k":"b","s":"b2","z":14,"v":7.0},{"p":4,"k":"b","s":"b2","z":15.8,"v":6.6},
{"p":4,"k":"b","s":"b3","z":0,"v":10.28},{"p":4,"k":"b","s":"b3","z":0.6,"v":10.22},{"p":4,"k":"b","s":"b3","z":1.5,"v":10.06},{"p":4,"k":"b","s":"b3","z":2.5,"v":9.82},{"p":4,"k":"b","s":"b3","z":3.5,"v":9.58},{"p":4,"k":"b","s":"b3","z":4.5,"v":9.4},{"p":4,"k":"b","s":"b3","z":5.6,"v":9.22},{"p":4,"k":"b","s":"b3","z":6.8,"v":9.0},{"p":4,"k":"b","s":"b3","z":8.2,"v":8.72},{"p":4,"k":"b","s":"b3","z":9.6,"v":8.48},{"p":4,"k":"b","s":"b3","z":11,"v":8.25},{"p":4,"k":"b","s":"b3","z":12.5,"v":7.95},{"p":4,"k":"b","s":"b3","z":14,"v":7.6},
{"p":4,"k":"b","s":"b4","z":0,"v":10.12},{"p":4,"k":"b","s":"b4","z":0.6,"v":10.05},{"p":4,"k":"b","s":"b4","z":1.5,"v":9.88},{"p":4,"k":"b","s":"b4","z":2.5,"v":9.6},{"p":4,"k":"b","s":"b4","z":3.5,"v":9.35},{"p":4,"k":"b","s":"b4","z":4.5,"v":9.15},{"p":4,"k":"b","s":"b4","z":5.6,"v":8.95},{"p":4,"k":"b","s":"b4","z":6.8,"v":8.7},{"p":4,"k":"b","s":"b4","z":8.2,"v":8.35},{"p":4,"k":"b","s":"b4","z":9.6,"v":8.0},{"p":4,"k":"b","s":"b4","z":11,"v":7.6},{"p":4,"k":"b","s":"b4","z":12.5,"v":7.0},{"p":4,"k":"b","s":"b4","z":14,"v":6.3},
{"p":4,"k":"b","s":"b5","z":0,"v":10.4},{"p":4,"k":"b","s":"b5","z":0.6,"v":10.33},{"p":4,"k":"b","s":"b5","z":1.5,"v":10.18},{"p":4,"k":"b","s":"b5","z":2.5,"v":9.95},{"p":4,"k":"b","s":"b5","z":3.5,"v":9.72},{"p":4,"k":"b","s":"b5","z":4.5,"v":9.55},{"p":4,"k":"b","s":"b5","z":5.6,"v":9.38},{"p":4,"k":"b","s":"b5","z":6.8,"v":9.15},{"p":4,"k":"b","s":"b5","z":8.2,"v":8.9},{"p":4,"k":"b","s":"b5","z":9.6,"v":8.65},{"p":4,"k":"b","s":"b5","z":11,"v":8.4},{"p":4,"k":"b","s":"b5","z":12.5,"v":8.1},{"p":4,"k":"b","s":"b5","z":14,"v":7.75},{"p":4,"k":"b","s":"b5","z":15.8,"v":7.4},
{"p":4,"k":"b","s":"b6","z":0,"v":10.25},{"p":4,"k":"b","s":"b6","z":0.6,"v":10.18},{"p":4,"k":"b","s":"b6","z":1.5,"v":10.02},{"p":4,"k":"b","s":"b6","z":2.5,"v":9.78},{"p":4,"k":"b","s":"b6","z":3.5,"v":9.52},{"p":4,"k":"b","s":"b6","z":4.5,"v":9.33},{"p":4,"k":"b","s":"b6","z":5.6,"v":9.15},{"p":4,"k":"b","s":"b6","z":6.8,"v":8.92},{"p":4,"k":"b","s":"b6","z":8.2,"v":8.62},{"p":4,"k":"b","s":"b6","z":9.6,"v":8.32},{"p":4,"k":"b","s":"b6","z":11,"v":8.0},{"p":4,"k":"b","s":"b6","z":12.5,"v":7.6},{"p":4,"k":"b","s":"b6","z":14,"v":7.15},{"p":4,"k":"b","s":"b6","z":15.8,"v":6.7},
{"p":4,"k":"b","s":"b7","z":0,"v":10.3},{"p":4,"k":"b","s":"b7","z":0.6,"v":10.24},{"p":4,"k":"b","s":"b7","z":1.5,"v":10.08},{"p":4,"k":"b","s":"b7","z":2.5,"v":9.85},{"p":4,"k":"b","s":"b7","z":3.5,"v":9.62},{"p":4,"k":"b","s":"b7","z":4.5,"v":9.45},{"p":4,"k":"b","s":"b7","z":5.6,"v":9.3},{"p":4,"k":"b","s":"b7","z":6.8,"v":9.1},{"p":4,"k":"b","s":"b7","z":8.2,"v":8.85},{"p":4,"k":"b","s":"b7","z":9.6,"v":8.6},{"p":4,"k":"b","s":"b7","z":11,"v":8.3},{"p":4,"k":"b","s":"b7","z":12.5,"v":7.95},{"p":4,"k":"b","s":"b7","z":14,"v":7.5},{"p":4,"k":"b","s":"b7","z":15.8,"v":7.0},
{"p":4,"k":"b","s":"b8","z":0,"v":10.15},{"p":4,"k":"b","s":"b8","z":0.6,"v":10.08},{"p":4,"k":"b","s":"b8","z":1.5,"v":9.9},{"p":4,"k":"b","s":"b8","z":2.5,"v":9.62},{"p":4,"k":"b","s":"b8","z":3.5,"v":9.38},{"p":4,"k":"b","s":"b8","z":4.5,"v":9.18},{"p":4,"k":"b","s":"b8","z":5.6,"v":9.0},{"p":4,"k":"b","s":"b8","z":6.8,"v":8.75},{"p":4,"k":"b","s":"b8","z":8.2,"v":8.45},{"p":4,"k":"b","s":"b8","z":9.6,"v":8.15},{"p":4,"k":"b","s":"b8","z":11,"v":7.85},{"p":4,"k":"b","s":"b8","z":12.5,"v":7.5},{"p":4,"k":"b","s":"b8","z":14,"v":7.1},
{"p":4,"k":"b","s":"b9","z":0,"v":10.22},{"p":4,"k":"b","s":"b9","z":0.6,"v":10.16},{"p":4,"k":"b","s":"b9","z":1.5,"v":10.0},{"p":4,"k":"b","s":"b9","z":2.5,"v":9.75},{"p":4,"k":"b","s":"b9","z":3.5,"v":9.5},{"p":4,"k":"b","s":"b9","z":4.5,"v":9.3},{"p":4,"k":"b","s":"b9","z":5.6,"v":9.12},{"p":4,"k":"b","s":"b9","z":6.8,"v":8.88},{"p":4,"k":"b","s":"b9","z":8.2,"v":8.6},{"p":4,"k":"b","s":"b9","z":9.6,"v":8.3},{"p":4,"k":"b","s":"b9","z":11,"v":7.9},{"p":4,"k":"b","s":"b9","z":12.5,"v":7.2},{"p":4,"k":"b","s":"b9","z":13.3,"v":5.95},
{"p":4,"k":"b","s":"b10","z":0,"v":10.32},{"p":4,"k":"b","s":"b10","z":0.6,"v":10.25},{"p":4,"k":"b","s":"b10","z":1.5,"v":10.1},{"p":4,"k":"b","s":"b10","z":2.5,"v":9.88},{"p":4,"k":"b","s":"b10","z":3.5,"v":9.66},{"p":4,"k":"b","s":"b10","z":4.5,"v":9.5},{"p":4,"k":"b","s":"b10","z":5.6,"v":9.34},{"p":4,"k":"b","s":"b10","z":6.8,"v":9.12},{"p":4,"k":"b","s":"b10","z":8.2,"v":8.88},{"p":4,"k":"b","s":"b10","z":9.6,"v":8.62},{"p":4,"k":"b","s":"b10","z":11,"v":8.35},{"p":4,"k":"b","s":"b10","z":12.5,"v":8.05},{"p":4,"k":"b","s":"b10","z":14,"v":7.75},{"p":4,"k":"b","s":"b10","z":15.8,"v":7.45}
]},
"vconcat":[
 {"hconcat":[
  {"width":124.5,"height":128,"data":{"name":"d"},"transform":[{"filter":"datum.p==1"}],
   "encoding":{
    "x":{"field":"z","type":"quantitative","scale":{"type":"symlog","constant":1,"domain":[0,15.8],"nice":false},"axis":{"values":[0,1,2,3,4,5,6,7,8,9,10],"labels":false,"title":null}},
    "y":{"field":"v","type":"quantitative","scale":{"domain":[5,10.7],"nice":false,"zero":false},"axis":{"values":[6,8,10],"title":"log₁₀ (M₂₀₀ᶻ/M⊙ h⁻¹)","titlePadding":8}}},
   "layer":[
    {"transform":[{"filter":"datum.k=='o'||datum.k=='b'"}],"mark":{"type":"line","strokeWidth":0.8,"opacity":0.6,"clip":true},"encoding":{"detail":{"field":"s"},"color":{"field":"k","type":"nominal","scale":{"domain":["b","o","B","O"],"range":["#1f77b4","#ff7f0e","#1f77b4","#ff7f0e"]},"legend":null}}},
    {"transform":[{"filter":"datum.k=='B'||datum.k=='O'"}],"mark":{"type":"line","strokeWidth":5.2,"color":"#000","clip":true,"interpolate":"monotone"},"encoding":{"detail":{"field":"k"}}},
    {"transform":[{"filter":"datum.k=='B'||datum.k=='O'"}],"mark":{"type":"line","strokeWidth":3.4,"clip":true,"interpolate":"monotone"},"encoding":{"color":{"field":"k","type":"nominal","scale":{"domain":["b","o","B","O"],"range":["#1f77b4","#ff7f0e","#1f77b4","#ff7f0e"]},"legend":null}}},
    {"transform":[{"filter":"datum.k=='D'"}],"mark":{"type":"line","color":"#000","strokeWidth":1.5,"strokeDash":[4.5,2.5],"clip":true},"encoding":{}}
   ]},
  {"width":124.5,"height":128,"data":{"name":"d"},"transform":[{"filter":"datum.p==2"}],
   "encoding":{
    "x":{"field":"z","type":"quantitative","scale":{"type":"symlog","constant":1,"domain":[0,15.8],"nice":false},"axis":{"values":[0,1,2,3,4,5,6,7,8,9,10],"labels":false,"title":null}},
    "y":{"field":"v","type":"quantitative","scale":{"domain":[5,10.7],"nice":false,"zero":false},"axis":{"values":[6,8,10],"labels":false,"title":null}}},
   "layer":[
    {"transform":[{"filter":"datum.k=='o'||datum.k=='b'"}],"mark":{"type":"line","strokeWidth":0.8,"opacity":0.6,"clip":true},"encoding":{"detail":{"field":"s"},"color":{"field":"k","type":"nominal","scale":{"domain":["b","o","B","O"],"range":["#1f77b4","#ff7f0e","#1f77b4","#ff7f0e"]},"legend":null}}},
    {"transform":[{"filter":"datum.k=='B'||datum.k=='O'"}],"mark":{"type":"line","strokeWidth":5.2,"color":"#000","clip":true,"interpolate":"monotone"},"encoding":{"detail":{"field":"k"}}},
    {"transform":[{"filter":"datum.k=='B'||datum.k=='O'"}],"mark":{"type":"line","strokeWidth":3.4,"clip":true,"interpolate":"monotone"},"encoding":{"color":{"field":"k","type":"nominal","scale":{"domain":["b","o","B","O"],"range":["#1f77b4","#ff7f0e","#1f77b4","#ff7f0e"]},"legend":null}}},
    {"transform":[{"filter":"datum.k=='D'"}],"mark":{"type":"line","color":"#000","strokeWidth":1.5,"strokeDash":[4.5,2.5],"clip":true},"encoding":{}}
   ]}
 ],"spacing":14},
 {"hconcat":[
  {"width":124.5,"height":128,"data":{"name":"d"},"transform":[{"filter":"datum.p==3"}],
   "encoding":{
    "x":{"field":"z","type":"quantitative","scale":{"type":"symlog","constant":1,"domain":[0,15.8],"nice":false},"axis":{"values":[0,1,2,3,4,5,6,7,8,9,10],"labelExpr":"datum.value==0||datum.value==10 ? datum.label : ''","title":"Redshift","titlePadding":6}},
    "y":{"field":"v","type":"quantitative","scale":{"domain":[5,10.7],"nice":false,"zero":false},"axis":{"values":[6,8,10],"title":"log₁₀ (M₂₀₀ᶻ/M⊙ h⁻¹)","titlePadding":8}}},
   "layer":[
    {"transform":[{"filter":"datum.k=='o'||datum.k=='b'"}],"mark":{"type":"line","strokeWidth":0.8,"opacity":0.6,"clip":true},"encoding":{"detail":{"field":"s"},"color":{"field":"k","type":"nominal","scale":{"domain":["b","o","B","O"],"range":["#1f77b4","#ff7f0e","#1f77b4","#ff7f0e"]},"legend":null}}},
    {"transform":[{"filter":"datum.k=='B'||datum.k=='O'"}],"mark":{"type":"line","strokeWidth":5.2,"color":"#000","clip":true,"interpolate":"monotone"},"encoding":{"detail":{"field":"k"}}},
    {"transform":[{"filter":"datum.k=='B'||datum.k=='O'"}],"mark":{"type":"line","strokeWidth":3.4,"clip":true,"interpolate":"monotone"},"encoding":{"color":{"field":"k","type":"nominal","scale":{"domain":["b","o","B","O"],"range":["#1f77b4","#ff7f0e","#1f77b4","#ff7f0e"]},"legend":null}}},
    {"transform":[{"filter":"datum.k=='D'"}],"mark":{"type":"line","color":"#000","strokeWidth":1.5,"strokeDash":[4.5,2.5],"clip":true},"encoding":{}}
   ]},
  {"width":124.5,"height":128,"data":{"name":"d"},"transform":[{"filter":"datum.p==4"}],
   "encoding":{
    "x":{"field":"z","type":"quantitative","scale":{"type":"symlog","constant":1,"domain":[0,15.8],"nice":false},"axis":{"values":[0,1,2,3,4,5,6,7,8,9,10],"labelExpr":"datum.value==0||datum.value==10 ? datum.label : ''","title":"Redshift","titlePadding":6}},
    "y":{"field":"v","type":"quantitative","scale":{"domain":[5,10.7],"nice":false,"zero":false},"axis":{"values":[6,8,10],"labels":false,"title":null}}},
   "layer":[
    {"transform":[{"filter":"datum.k=='o'||datum.k=='b'"}],"mark":{"type":"line","strokeWidth":0.8,"opacity":0.6,"clip":true},"encoding":{"detail":{"field":"s"},"color":{"field":"k","type":"nominal","scale":{"domain":["b","o","B","O"],"range":["#1f77b4","#ff7f0e","#1f77b4","#ff7f0e"]},"legend":null}}},
    {"transform":[{"filter":"datum.k=='B'||datum.k=='O'"}],"mark":{"type":"line","strokeWidth":5.2,"color":"#000","clip":true,"interpolate":"monotone"},"encoding":{"detail":{"field":"k"}}},
    {"transform":[{"filter":"datum.k=='B'||datum.k=='O'"}],"mark":{"type":"line","strokeWidth":3.4,"clip":true,"interpolate":"monotone"},"encoding":{"color":{"field":"k","type":"nominal","scale":{"domain":["b","o","B","O"],"range":["#1f77b4","#ff7f0e","#1f77b4","#ff7f0e"]},"legend":null}}},
    {"transform":[{"filter":"datum.k=='D'"}],"mark":{"type":"line","color":"#000","strokeWidth":1.5,"strokeDash":[4.5,2.5],"clip":true},"encoding":{}}
   ]}
 ],"spacing":14}
]
}
